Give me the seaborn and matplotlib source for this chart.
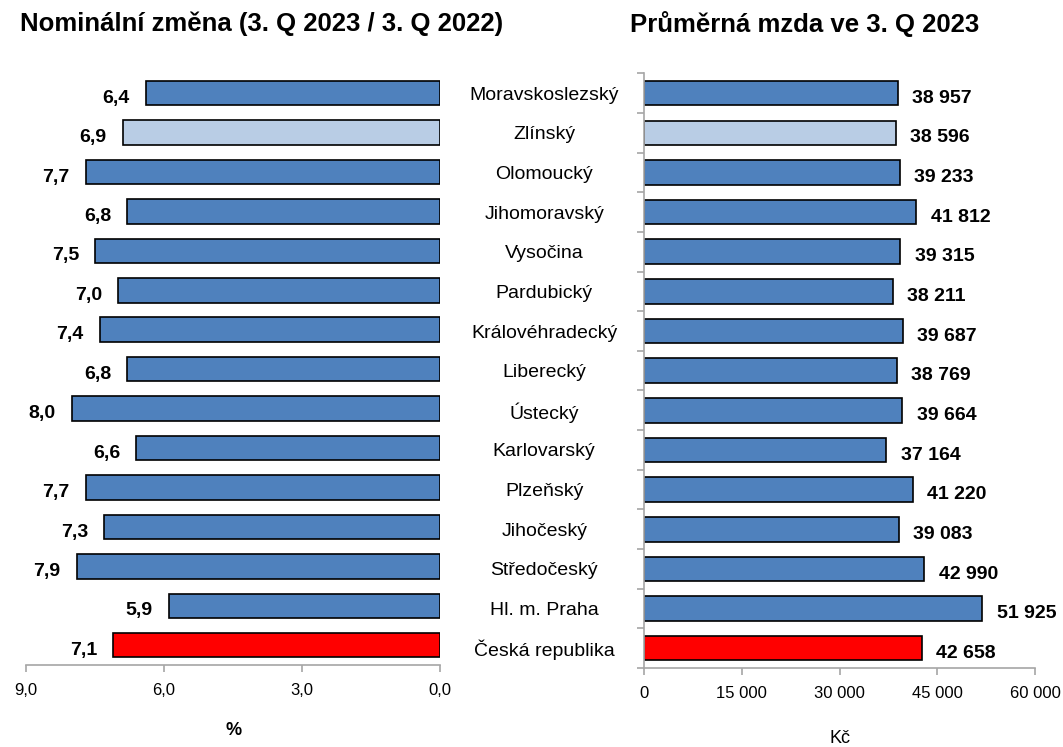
import matplotlib
matplotlib.use("Agg")
import matplotlib.pyplot as plt
import seaborn as sns
import numpy as np
import pandas as pd
from matplotlib.ticker import FuncFormatter

regions = ["Moravskoslezský", "Zlínský", "Olomoucký", "Jihomoravský", "Vysočina",
           "Pardubický", "Královéhradecký", "Liberecký", "Ústecký", "Karlovarský",
           "Plzeňský", "Jihočeský", "Středočeský", "Hl. m. Praha", "Česká republika"]
change_pct = [6.4, 6.9, 7.7, 6.8, 7.5, 7.0, 7.4, 6.8, 8.0, 6.6, 7.7, 7.3, 7.9, 5.9, 7.1]
wage_czk = [38957, 38596, 39233, 41812, 39315, 38211, 39687, 38769, 39664, 37164,
            41220, 39083, 42990, 51925, 42658]
bar_colors = ["#4F81BD", "#B9CDE5"] + ["#4F81BD"] * 12 + ["#FF0000"]

sns.set_theme(style="white")
plt.rcParams['font.family'] = ['Liberation Sans', 'DejaVu Sans']
plt.rcParams['text.color'] = 'black'
plt.rcParams['axes.labelcolor'] = 'black'

df = pd.DataFrame({"region": regions, "change": change_pct, "wage": wage_czk})
pal = dict(zip(regions, bar_colors))

fig = plt.figure(figsize=(10.63, 7.47), dpi=100)
axL = fig.add_axes([0.0245, 0.1098, 0.3895, 0.792])
axR = fig.add_axes([0.6058, 0.1058, 0.3679, 0.796])

for ax, col in ((axL, "change"), (axR, "wage")):
    sns.barplot(data=df, x=col, y="region", hue="region", palette=pal, legend=False,
                orient="h", ax=ax, edgecolor="black", linewidth=1.2, width=0.62,
                saturation=1)
    ax.set_ylim(14.5, -0.5)
    ax.set_ylabel("")
    for s in ("top", "right"):
        ax.spines[s].set_visible(False)
    ax.spines["bottom"].set_color("#A6A6A6")
    ax.spines["bottom"].set_linewidth(1.2)
    ax.tick_params(axis="x", colors="#A6A6A6", length=5, width=1.2, direction="out",
                   labelcolor="black", labelsize=12, pad=8, bottom=True)

# Left panel
axL.set_xlim(9, 0)
axL.set_xticks([9, 6, 3, 0])
axL.xaxis.set_major_formatter(FuncFormatter(lambda v, p: f"{v:.1f}".replace(".", ",")))
axL.spines["left"].set_visible(False)
axL.set_yticks([])
axL.set_xlabel("%", fontsize=13, fontweight="bold", labelpad=17)
for i, v in enumerate(change_pct):
    axL.text(v + 0.35, i + 0.08, f"{v:.1f}".replace(".", ","), ha="right",
             va="center_baseline", fontsize=14, fontweight="bold")

# Right panel
axR.set_xlim(0, 60000)
axR.set_xticks([0, 15000, 30000, 45000, 60000])
axR.xaxis.set_major_formatter(FuncFormatter(lambda v, p: f"{int(v):,}".replace(",", " ")))
axR.spines["left"].set_color("#A6A6A6")
axR.spines["left"].set_linewidth(1.2)
axR.set_yticks(np.arange(-0.5, 15, 1))
axR.set_yticklabels([])
axR.tick_params(axis="y", colors="#A6A6A6", length=5, width=1.2, direction="out", left=True)
axR.set_xlabel("Kč", fontsize=13, labelpad=21)
for i, v in enumerate(wage_czk):
    axR.text(v + 2200, i + 0.08, f"{v:,}".replace(",", " "), ha="left",
             va="center_baseline", fontsize=14, fontweight="bold")

# Category labels in between
for i, r in enumerate(regions):
    axR.text(-0.255, i, r, transform=axR.get_yaxis_transform(), ha="center",
             va="center_baseline", fontsize=14)

fig.text(0.019, 0.968, "Nominální změna (3. Q 2023 / 3. Q 2022)", fontsize=18.5,
         fontweight="bold", ha="left", va="center")
fig.text(0.593, 0.968, "Průměrná mzda ve 3. Q 2023", fontsize=18.5,
         fontweight="bold", ha="left", va="center")

fig.savefig("out.png", dpi=100)
